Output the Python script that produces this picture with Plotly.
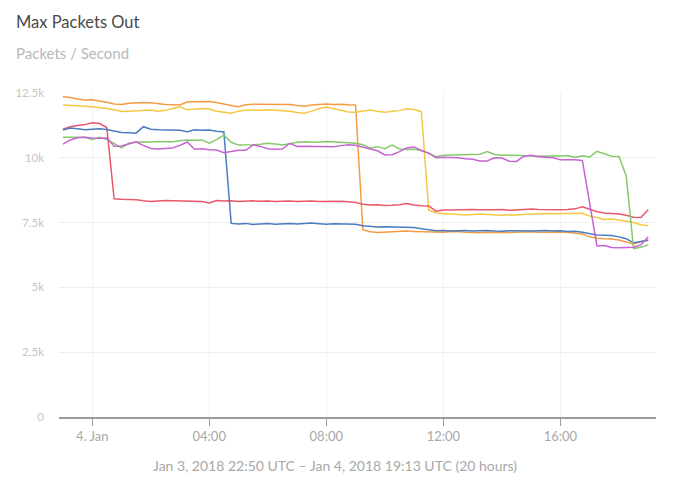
import pandas as pd
import plotly.graph_objects as go

# 15-minute samples, 23:00 Jan 3 -> 19:00 Jan 4 (81 points)
times = pd.date_range("2018-01-03 23:00", periods=81, freq="15min")

orange = [12360, 12330, 12270, 12230, 12240, 12200, 12140, 12080, 12060, 12100,
          12120, 12130, 12120, 12080, 12060, 12050, 12040, 12160, 12170, 12180,
          12170, 12130, 12060, 12020, 11970, 12050, 12070, 12070, 12060, 12080,
          12070, 12060, 12020, 11990, 12040, 12070, 12080, 12060, 12070, 12050,
          12040,
          7220, 7150, 7120, 7140, 7160, 7170, 7180, 7160, 7150, 7140,
          7150, 7130, 7150, 7160, 7130, 7120, 7110, 7130, 7120, 7110,
          7120, 7130, 7140, 7150, 7130, 7140, 7150, 7140, 7130, 7100,
          7060, 6950, 6900, 6880, 6870, 6830, 6740, 6680, 6760, 6820]

yellow = [12040, 12030, 12000, 11990, 11970, 11940, 11900, 11850, 11790, 11800,
          11820, 11840, 11840, 11800, 11830, 11900, 11970, 11850, 11870, 11900,
          11880, 11800, 11760, 11720, 11800, 11840, 11840, 11830, 11850, 11840,
          11820, 11800, 11750, 11720, 11800, 11900, 11960, 11900, 11820, 11770,
          11760, 11800, 11840, 11800, 11760, 11800, 11820, 11890, 11860, 11780,
          7990, 7870, 7850, 7820, 7800, 7790, 7810, 7830, 7810, 7800,
          7780, 7800, 7790, 7810, 7830, 7850, 7850, 7840, 7850, 7840,
          7850, 7860, 7750, 7700, 7620, 7640, 7600, 7560, 7500, 7420, 7380]

red = [11100, 11200, 11250, 11280, 11350, 11320, 11170,
       8420, 8400, 8390, 8380, 8340, 8310, 8330, 8350, 8340, 8330, 8310, 8300,
       8310, 8260, 8350, 8330, 8340, 8310, 8330, 8340, 8320, 8330, 8310,
       8320, 8330, 8310, 8320, 8330, 8310, 8320, 8310, 8320, 8300,
       8280, 8210, 8180, 8190, 8160, 8170, 8190, 8240, 8180, 8150,
       8140, 7940, 7990, 7990, 8000, 7990, 8010, 8000, 7990, 8000,
       8010, 7980, 7990, 8010, 8020, 8010, 8000, 8010, 8000, 8010,
       8030, 8110, 8020, 7920, 7870, 7860, 7830, 7780, 7710, 7700, 8000]

blue = [11070, 11150, 11120, 11080, 11100, 11120, 11090, 11020, 10980, 10970,
        10950, 11200, 11100, 11080, 11070, 11070, 11060, 11010, 11080, 11060,
        11070, 11020, 11000,
        7470, 7450, 7470, 7430, 7450, 7470, 7440, 7460, 7470, 7450, 7470,
        7480, 7460, 7440, 7460, 7450, 7430, 7440, 7380, 7360, 7330, 7340,
        7330, 7320, 7330, 7310, 7260, 7230, 7190, 7200, 7180, 7190, 7200,
        7180, 7190, 7200, 7180, 7170, 7190, 7180, 7190, 7180, 7190, 7200,
        7180, 7190, 7160, 7170, 7130, 7060, 7020, 7010, 7000, 6950, 6880,
        6720, 6780, 6820]

green = [10790, 10790, 10780, 10790, 10710, 10790, 10700, 10560, 10380, 10560,
         10600, 10620, 10610, 10630, 10620, 10620, 10660, 10690, 10680, 10690,
         10560, 10700, 10880, 10600, 10490, 10490, 10500, 10520, 10560, 10530,
         10490, 10540, 10600, 10620, 10610, 10600, 10630, 10620, 10610, 10580,
         10560, 10500, 10380, 10430, 10350, 10490, 10340, 10320, 10330, 10280,
         10180, 10040, 10100, 10110, 10100, 10130, 10120, 10140, 10240, 10130,
         10100, 10110, 10100, 10080, 10070, 10080, 10060, 10080, 10070, 10090,
         10010, 10080, 10030, 10250, 10140, 10060, 10050, 9300, 6500, 6550, 6640]

purple = [10530, 10690, 10770, 10790, 10760, 10740, 10770, 10450, 10460, 10550,
          10620, 10480, 10360, 10340, 10350, 10380, 10480, 10610, 10330, 10350,
          10310, 10300, 10200, 10250, 10290, 10290, 10500, 10440, 10350, 10330,
          10340, 10560, 10440, 10450, 10450, 10450, 10450, 10430, 10470, 10500,
          10480, 10400, 10330, 10270, 10110, 10120, 10240, 10380, 10420, 10280,
          10180, 10000, 10020, 10020, 10000, 9960, 9940, 9880, 9880, 10000,
          9990, 9870, 9860, 10060, 10100, 10040, 10030, 10000, 9920, 9930,
          9920, 9900, 8300, 6600, 6620, 6540, 6530, 6540, 6550, 6640, 6950]

series = [
    ("orange", orange, "#f39c45"),
    ("yellow", yellow, "#f5c843"),
    ("red", red, "#e9596a"),
    ("blue", blue, "#4a7cbf"),
    ("green", green, "#86c96a"),
    ("purple", purple, "#c763d3"),
]

y_tickvals = [0, 2500, 5000, 7500, 10000, 12500]
y_ticktext = ["0", "2.5k", "5k", "7.5k", "10k", "12.5k"]
x_tickvals = ["2018-01-04 00:00", "2018-01-04 04:00", "2018-01-04 08:00",
              "2018-01-04 12:00", "2018-01-04 16:00"]
x_ticktext = ["4. Jan", "04:00", "08:00", "12:00", "16:00"]

FONT = "Lato"

fig = go.Figure()
for name, vals, color in series:
    fig.add_trace(go.Scatter(x=times, y=vals, mode="lines", name=name,
                             line=dict(color=color, width=1.5)))

L, R, T, B = 59, 28, 93, 68
W, H = 684, 485
pw = W - L - R
ph = H - T - B

def px(xp):
    return (xp - L) / pw

def py(yp):
    return (H - B - yp) / ph

fig.update_layout(
    width=W, height=H,
    margin=dict(l=L, r=R, t=T, b=B),
    paper_bgcolor="white", plot_bgcolor="white",
    showlegend=False,
    font=dict(family=FONT, color="#aaaaaa", size=11),
    xaxis=dict(
        type="date",
        range=["2018-01-03 22:52", "2018-01-04 19:16"],
        tickvals=x_tickvals, ticktext=x_ticktext,
        showgrid=True, gridcolor="#f2f2f2", gridwidth=1,
        showline=True, linecolor="#9a9a9a", linewidth=1.5,
        ticks="outside", ticklen=7, tickcolor="#9a9a9a", tickwidth=1,
        tickfont=dict(family=FONT, size=13, color="#a8a8a8"),
        zeroline=False,
    ),
    yaxis=dict(
        range=[0, 12500],
        tickvals=y_tickvals, ticktext=y_ticktext,
        showgrid=True, gridcolor="#eeeeee", gridwidth=1,
        showline=False, zeroline=False,
        ticks="", ticklabelstandoff=14,
        tickfont=dict(family=FONT, size=11.5, color="#c4c4c4"),
    ),
    annotations=[
        dict(text="Max Packets Out", xref="paper", yref="paper",
             x=px(14), y=py(22), xanchor="left", yanchor="middle",
             showarrow=False, font=dict(family=FONT, size=16.5, color="#4a4a4a")),
        dict(text="Packets / Second", xref="paper", yref="paper",
             x=px(14), y=py(53), xanchor="left", yanchor="middle",
             showarrow=False, font=dict(family=FONT, size=15, color="#b8b8b8")),
        dict(text="Jan 3, 2018 22:50 UTC \u2013 Jan 4, 2018 19:13 UTC (20 hours)",
             xref="paper", yref="paper",
             x=px(335), y=py(465), xanchor="center", yanchor="middle",
             showarrow=False, font=dict(family=FONT, size=14, color="#a8a8a8")),
    ],
)

fig.write_html("out.html")
